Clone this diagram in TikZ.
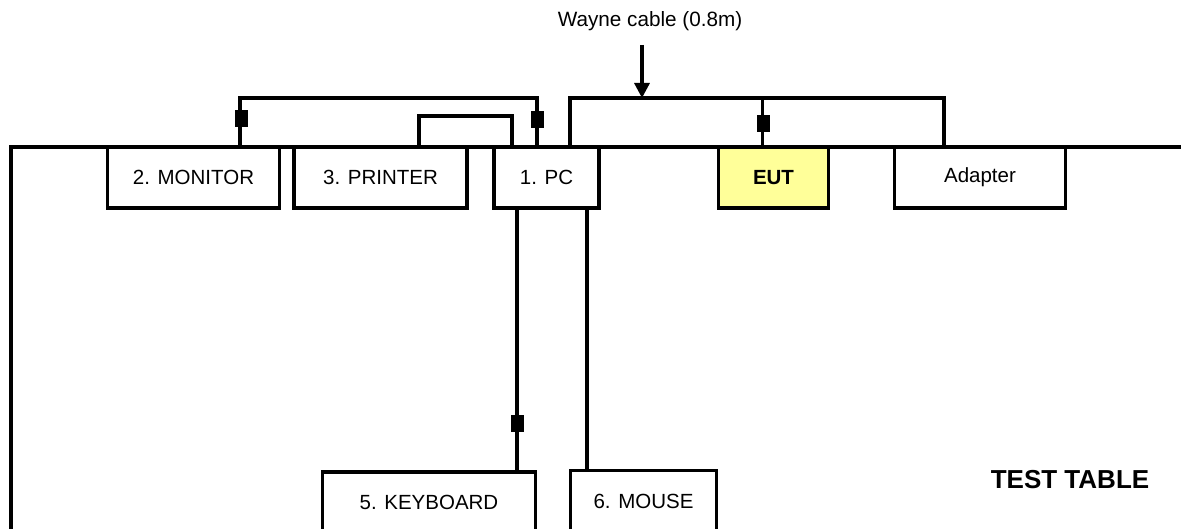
\documentclass[tikz,border=0pt]{standalone}
\usepackage{fontspec}
\setmainfont{Liberation Sans}
\usetikzlibrary{arrows.meta}
\definecolor{eutyellow}{HTML}{FFFF99}
\begin{document}
\begin{tikzpicture}[x=1pt,y=-1pt,
  box/.style={draw,line width=3.2pt,fill=white,inner sep=0pt,font=\fontsize{20.5}{24}\selectfont},
  cable/.style={line width=3.2pt},
  tableline/.style={line width=4.5pt,line join=miter},
  plug/.style={fill=black,draw=none,minimum width=13pt,minimum height=17pt,inner sep=0pt},
  lbl/.style={font=\fontsize{20.7}{24}\selectfont,inner sep=0pt},
]
\useasboundingbox (0,0) rectangle (1181,529);
\clip (0,0) rectangle (1181,529);

% equipment boxes
\node[box,minimum width=171.5pt,minimum height=61pt] (mon) at (193.5,177.5) {2. MONITOR};
\node[box,minimum width=173pt,minimum height=61pt] (pr) at (380.5,177.5) {3. PRINTER};
\node[box,minimum width=105pt,minimum height=61pt] (pc) at (546.5,177.5) {1. PC};
\node[box,fill=eutyellow,font=\fontsize{20.5}{24}\selectfont\bfseries,minimum width=110.5pt,minimum height=61pt] (eut) at (773.5,177.5) {EUT};
\node[box,minimum width=171pt,minimum height=61pt] (ad) at (980,177.5) {Adapter};
\node[box,minimum width=212.5pt,minimum height=61pt] (kb) at (429,502.5) {5. KEYBOARD};
\node[box,minimum width=145.5pt,minimum height=61pt] (ms) at (643.5,501) {6. MOUSE};

% cable routing points
\coordinate (c1) at (240,98);
\coordinate (c2) at (537,98);
\coordinate (c3) at (419,116);
\coordinate (c4) at (512,116);
\coordinate (c5) at (570,98);
\coordinate (c6) at (762.5,98);
\coordinate (c7) at (944,98);
\coordinate (c8) at (517,300);
\coordinate (c9) at (587,300);
\coordinate (a1) at (642,45);

% cables
\draw[cable] (mon.north -| c1) -- (c1) -- (c2) -- (pc.north -| c2);
\draw[cable] (pr.north -| c3) -- (c3) -- (c4) -- (pc.north -| c4);
\draw[cable] (pc.north -| c5) -- (c5) -- (c7) -- (ad.north -| c7);
\draw[cable] (c6) -- (eut.north -| c6);
\draw[cable] (pc.south -| c8) -- (kb.north -| c8);
\draw[cable] (pc.south -| c9) -- (ms.north -| c9);

% plugs
\node[plug] (p1) at (241,118.5) {};
\node[plug] (p2) at (537,119.5) {};
\node[plug] (p3) at (763,123.5) {};
\node[plug] (p4) at (517,423.5) {};

% table edge
\draw[tableline] (11,545) -- (11,147) -- (1195,147);

% Wayne cable label and arrow
\node[lbl] (wl) at (650,21) {Wayne cable (0.8m)};
\draw[cable,-{Triangle[length=15pt,width=15pt]}] (a1) -- (a1 |- c5);

\node[font=\fontsize{26}{30}\selectfont\bfseries,inner sep=0pt] (tt) at (1070,480) {TEST TABLE};
\end{tikzpicture}
\end{document}
